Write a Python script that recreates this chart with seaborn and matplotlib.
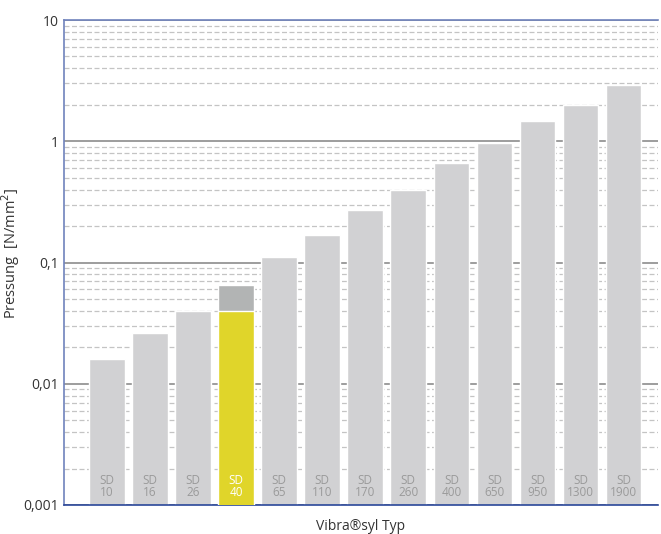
import matplotlib.pyplot as plt
import seaborn as sns
import pandas as pd
from matplotlib.ticker import LogLocator, FixedLocator

types = ["10", "16", "26", "40", "65", "110", "170", "260", "400", "650", "950", "1300", "1900"]
pressure = [0.016, 0.026, 0.04, 0.065, 0.11, 0.17, 0.27, 0.40, 0.66, 0.96, 1.46, 2.0, 2.9]
sd40_static = 0.04
y_ticks = [0.001, 0.01, 0.1, 1, 10]
y_tick_labels = ["0,001", "0,01", "0,1", "1", "10"]

df = pd.DataFrame({"typ": types, "pressung": pressure})
df["gelb"] = [sd40_static if t == "40" else float("nan") for t in types]

sns.set_style("white")
plt.rcParams["font.family"] = ["Open Sans", "DejaVu Sans"]

fig = plt.figure(figsize=(6.61, 5.34), dpi=100)
ax = fig.add_axes([64 / 661, 29 / 534, 594 / 661, 485 / 534])
ax.set_yscale("log")

colors = ["#b2b4b4" if t == "40" else "#d1d1d3" for t in types]
sns.barplot(data=df, x="typ", y="pressung", order=types, hue="typ",
            palette=colors, legend=False, width=0.83, saturation=1, ax=ax, zorder=2)
sns.barplot(data=df, x="typ", y="gelb", order=types, color="#e0d52a",
            width=0.83, saturation=1, ax=ax, zorder=3)

ax.set_ylim(0.001, 10)
ax.set_xlim(-1, 12.8)
ax.yaxis.set_major_locator(FixedLocator(y_ticks))
ax.set_yticklabels(y_tick_labels)
ax.yaxis.set_minor_locator(LogLocator(base=10, subs=range(2, 10)))
ax.yaxis.set_minor_formatter(plt.NullFormatter())
ax.grid(which="major", axis="y", color="#8c8c8c", lw=1.2, ls="-", zorder=0)
ax.grid(which="minor", axis="y", color="#c4c4c4", lw=0.9, ls=(0, (4, 2)), zorder=0)
ax.set_axisbelow(True)
ax.tick_params(axis="both", length=0, labelsize=10, labelcolor="#333333")
ax.set_xticks([])

for i, t in enumerate(types):
    c = "white" if t == "40" else "#9a9a9a"
    ax.text(i, 0.0016, "SD", ha="center", va="center", fontsize=8.5, color=c, zorder=4)
    ax.text(i, 0.00126, t, ha="center", va="center", fontsize=8.5, color=c, zorder=4)

ax.spines["right"].set_visible(False)
ax.spines["left"].set_color("#7083bc")
ax.spines["top"].set_color("#7083bc")
ax.spines["bottom"].set_color("#2a4799")
for s in ["left", "top", "bottom"]:
    ax.spines[s].set_linewidth(1.2)

ax.set_xlabel("Vibra®syl Typ", fontsize=10, color="#333333", labelpad=10)
ax.set_ylabel("Pressung  [N/mm$^2$]", fontsize=10.5, color="#333333")
ax.yaxis.set_label_coords(-0.07, 0.52)

fig.savefig("out.png", dpi=100)
